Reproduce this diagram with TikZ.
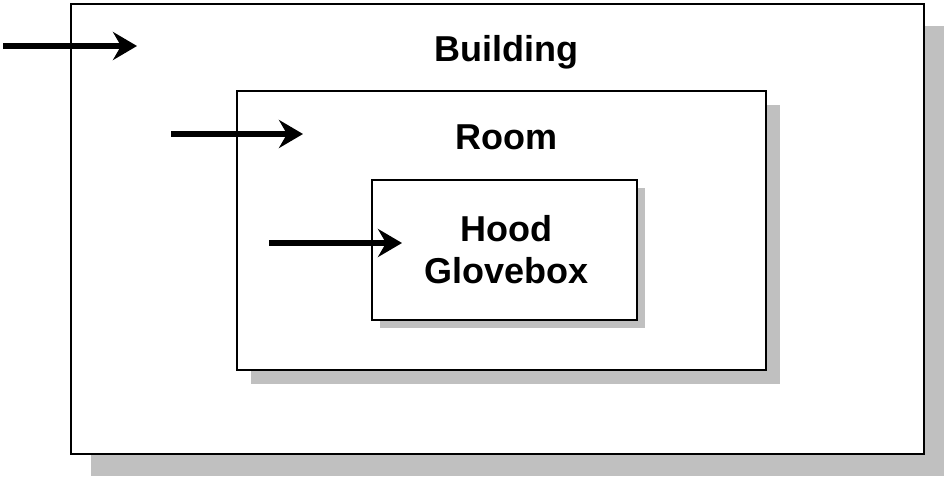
\documentclass[tikz,border=0pt]{standalone}
\usepackage{fontspec}
\setmainfont{Liberation Sans}
\usetikzlibrary{arrows.meta,shadows}
\definecolor{shadowgray}{RGB}{192,192,192}
\begin{document}
\begin{tikzpicture}[x=1pt,y=-1pt,
  box/.style={draw, line width=1.3pt, fill=white, inner sep=0pt},
  boxtitle/.style={font=\bfseries\fontsize{36}{42}\selectfont, inner sep=0pt, align=center},
  flow/.style={line width=5.5pt, -{Stealth[length=24pt,width=28pt,inset=8pt]}}]
  \useasboundingbox (0,0) rectangle (947,478);
  \node[box, minimum width=853pt, minimum height=450pt,
    drop shadow={shadow xshift=20pt, shadow yshift=-22pt, fill=shadowgray, opacity=1}]
    (building) at (497.5,229) {};
  \node[box, minimum width=529pt, minimum height=279pt,
    drop shadow={shadow xshift=14pt, shadow yshift=-14pt, fill=shadowgray, opacity=1}]
    (room) at (501.5,230.5) {};
  \node[box, minimum width=265pt, minimum height=140pt,
    drop shadow={shadow xshift=8pt, shadow yshift=-8pt, fill=shadowgray, opacity=1}]
    (hood) at (504.5,250) {};
  \node[boxtitle, anchor=base] (buildingtext) at (506.5,62) {Building};
  \node[boxtitle, anchor=base] (roomtext) at (506.5,150) {Room};
  \node[boxtitle] (hoodtext) at (506.5,249.5) {Hood\\Glovebox};
  \coordinate (in1) at (3,46);
  \coordinate (tip1) at (137,46);
  \coordinate (in2) at (171,134);
  \coordinate (tip2) at (303,134);
  \coordinate (in3) at (269,243);
  \coordinate (tip3) at (402,243);
  \draw[flow] (in1) -- (tip1);
  \draw[flow] (in2) -- (tip2);
  \draw[flow] (in3) -- (tip3);
\end{tikzpicture}
\end{document}
